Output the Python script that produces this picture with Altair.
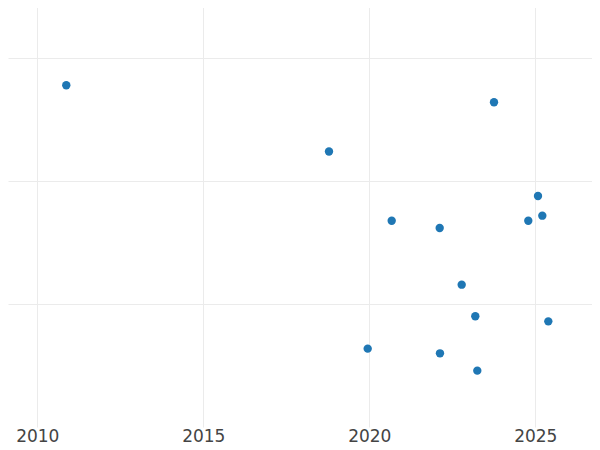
import altair as alt
import pandas as pd

years = [2010.873, 2023.756, 2018.786, 2025.081, 2020.675, 2024.789, 2025.211,
         2022.120, 2022.783, 2023.193, 2025.392, 2019.952, 2022.129, 2023.253]
values = [2.778, 2.640, 2.240, 1.878, 1.677, 1.677, 1.718,
          1.618, 1.157, 0.900, 0.859, 0.637, 0.599, 0.458]
x_ticks = [2010, 2015, 2020, 2025]
y_ticks = [1, 2, 3]

df = pd.DataFrame({"year": years, "value": values})

chart = alt.Chart(df).mark_circle(size=70, opacity=1, color="#1f77b4").encode(
    x=alt.X("year:Q",
            scale=alt.Scale(domain=[2009.1175, 2026.708], nice=False, zero=False),
            axis=alt.Axis(values=x_ticks, format="d", title=None, domain=False,
                          ticks=False, grid=True, gridColor="#ebebeb",
                          labelFont="DejaVu Sans", labelFontSize=17,
                          labelColor="#444444", labelBaseline="alphabetic",
                          labelPadding=14, labelFlush=False)),
    y=alt.Y("value:Q",
            scale=alt.Scale(domain=[0, 3.4715], nice=False, zero=False),
            axis=alt.Axis(values=y_ticks, title=None, domain=False, ticks=False,
                          labels=False, grid=True, gridColor="#ebebeb")),
).properties(
    width=584, height=427,
    padding={"left": 0, "top": -8, "right": 0, "bottom": 15},
    autosize="none"
).configure_view(stroke=None)

chart.save("out.html", embed_options={"renderer": "svg", "actions": False})
